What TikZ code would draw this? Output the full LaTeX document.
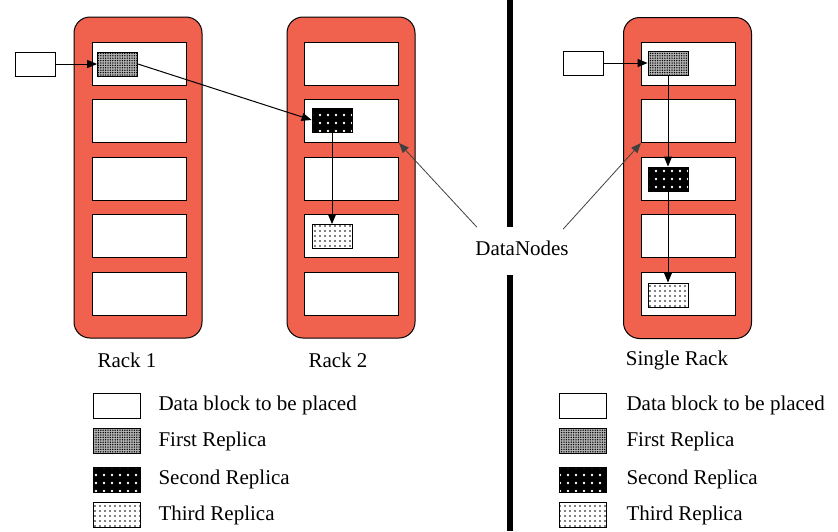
\documentclass[tikz,border=0pt]{standalone}
\usepackage{fontspec}
\setmainfont{Liberation Serif}
\usepackage{tikz}
\usetikzlibrary{arrows.meta, positioning, patterns.meta}
\definecolor{rackred}{RGB}{240,98,78}

\begin{document}
\begin{tikzpicture}[
        x=1pt, y=-1pt,
        every node/.style={font=\fontsize{21}{25}\selectfont},
        rack/.style={draw, fill=rackred, rounded corners=16pt, line width=1pt,
                     minimum width=128pt, minimum height=321pt, inner sep=0pt},
        slot/.style={draw, fill=white, line width=1pt, minimum width=94pt,
                     minimum height=43pt, inner sep=0pt},
        blk/.style={draw, line width=0.8pt, minimum width=40pt,
                    minimum height=24pt, inner sep=0pt},
        key/.style={blk, minimum width=47pt, minimum height=25pt},
        plain/.style={fill=white},
        first/.style={preaction={fill=gray!60}, pattern={Dots[distance=2.4pt, radius=0.75pt]}},
        second/.style={preaction={fill=black}, pattern={Dots[distance=8pt, radius=1.4pt]},
                       pattern color=white},
        third/.style={preaction={fill=white}, pattern={Dots[distance=5pt, radius=0.9pt]}},
        arr/.style={-{Triangle[length=10pt, width=8pt]}, line width=1pt},
        ptr/.style={-{Triangle[length=10pt, width=8pt]}, line width=0.8pt, draw=black!75},
        lbl/.style={anchor=west}
    ]
        \useasboundingbox (0,0) rectangle (838,531);

        % racks and their slots
        \node[rack] (r1) at (138,177.5) {};
        \node[rack] (r2) at (351,177.5) {};
        \node[rack] (r3) at (687.5,178) {};
        \foreach \r/\x in {1/139, 2/351.5, 3/688.5}
            \foreach \i in {1,...,5}
                \node[slot] (r\r-\i) at (\x, 6+57.5*\i) {};

        % blocks, two racks
        \node[blk, plain]  (d1) at (35,64)     {};
        \node[blk, first]  (f1) at (117.5,64)  {};
        \node[blk, second] (s2) at (332,120)   {};
        \node[blk, third]  (t2) at (332,236.5) {};
        \draw[arr] (d1) -- (f1);
        \draw[arr] (f1.east) -- (s2.west);
        \draw[arr] (s2) -- (t2);

        % blocks, single rack
        \node[blk, plain]  (d3) at (583,63)  {};
        \node[blk, first]  (f3) at (668,63)  {};
        \node[blk, second] (s3) at (668,179) {};
        \node[blk, third]  (t3) at (668,295) {};
        \draw[arr] (d3) -- (f3);
        \draw[arr] (f3) -- (s3);
        \draw[arr] (s3) -- (t3);

        \node (l1) at (127,360) {Rack 1};
        \node (l2) at (338,360) {Rack 2};
        \node (l3) at (677,360) {Single Rack};

        % divider
        \draw[line width=6pt] (510,0) -- (510,227) (510,275) -- (510,531);

        \node (dn) at (522,248) {DataNodes};
        \draw[ptr] ([shift={(5,-10)}]dn.north west) -- (r2-2.south east);
        \draw[ptr] ([shift={(-9,-8)}]dn.north east) -- (r3-2.south west);

        % legends
        \foreach \y/\s/\t [count=\k] in {405.5/plain/Data block to be placed,
                441/first/First Replica, 479.5/second/Second Replica, 515/third/Third Replica} {
            \node[key, \s] (ka\k) at (116.5,\y) {};
            \node[lbl] (ta\k) at (155,\y) {\t};
            \node[key, \s] (kb\k) at (583,\y) {};
            \node[lbl] (tb\k) at (623,\y) {\t};
        }
    \end{tikzpicture}
\end{document}
